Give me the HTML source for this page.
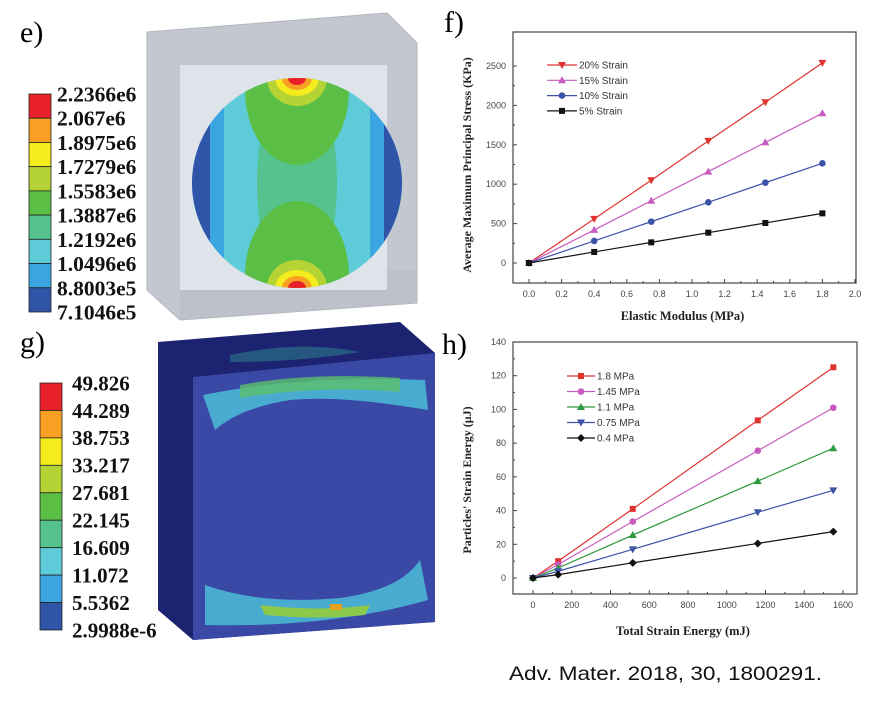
<!DOCTYPE html>
<html><head><meta charset="utf-8"><style>
html,body{margin:0;padding:0;background:#fff;}
svg{display:block;font-family:"Liberation Sans",sans-serif;}
.ser{font-family:"Liberation Serif",serif;font-weight:bold;}
</style></head><body>
<svg id="fig" width="883" height="708" viewBox="0 0 883 708" xmlns="http://www.w3.org/2000/svg">
<defs>
<clipPath id="circ"><circle cx="297" cy="183" r="105"/></clipPath>
</defs>
<!-- panel e -->
<text x="20" y="42" class="ser" style="font-weight:normal" font-size="30">e)</text>
<g>
<polygon points="147,32 387,13 417,43 417,303 180,320 147,290" fill="#c3c8d0" stroke="#b0b5bd"/>
<rect x="180" y="65" width="207" height="225" fill="#dfe3ea"/>
<g clip-path="url(#circ)">
<rect x="190" y="75" width="215" height="215" fill="#5ecbd9"/>
<rect x="190" y="75" width="22" height="215" fill="#2f55a8"/>
<rect x="383" y="75" width="22" height="215" fill="#2f55a8"/>
<rect x="210" y="75" width="14" height="215" fill="#3aa5e0"/>
<rect x="370" y="75" width="14" height="215" fill="#3aa5e0"/>
<ellipse cx="297" cy="183" rx="40" ry="110" fill="#56c28e"/>
<ellipse cx="297" cy="90" rx="52" ry="75" fill="#5bbf45"/>
<ellipse cx="297" cy="276" rx="52" ry="75" fill="#5bbf45"/>
<ellipse cx="297" cy="78" rx="30" ry="28" fill="#b5d334"/>
<ellipse cx="297" cy="288" rx="30" ry="28" fill="#b5d334"/>
<ellipse cx="297" cy="78" rx="22" ry="18" fill="#f5ec1e"/>
<ellipse cx="297" cy="288" rx="22" ry="18" fill="#f5ec1e"/>
<ellipse cx="297" cy="78" rx="15" ry="12" fill="#f7a023"/>
<ellipse cx="297" cy="288" rx="15" ry="12" fill="#f7a023"/>
<ellipse cx="297" cy="78" rx="9" ry="7" fill="#e8202a"/>
<ellipse cx="297" cy="288" rx="9" ry="7" fill="#e8202a"/>
</g>
<polygon points="180,290 387,290 387,270 417,270 417,303 180,320" fill="#b9bec6" opacity="0.6"/>
</g>
<g id="cbE"></g>
<!-- panel g -->
<text x="20" y="352" class="ser" style="font-weight:normal" font-size="30">g)</text>
<g>
<polygon points="158,342 400,322 435,353 435,622 193,640 158,610" fill="#1c2370"/>
<polygon points="193,377 435,353 435,622 193,640" fill="#3a48a6"/>
<path d="M203,395 Q300,375 425,380 L428,410 Q340,395 290,400 Q240,408 215,430 Z" fill="#4cb6d6" opacity="0.9"/>
<path d="M240,385 Q310,372 400,378 L400,392 Q320,385 240,398 Z" fill="#5bbf6a" opacity="0.8"/>
<path d="M205,585 Q260,605 340,598 Q400,590 420,560 L428,600 Q330,628 205,625 Z" fill="#4cb6d6" opacity="0.9"/>
<path d="M260,605 Q320,612 370,605 L365,615 Q320,620 265,615 Z" fill="#8cc84a"/>
<path d="M330,604 l12,0 l0,6 l-12,0 Z" fill="#e8a020"/>
<path d="M230,355 Q300,340 360,352 Q300,362 230,362 Z" fill="#2b7a8a" opacity="0.6"/>
</g>
<g id="cbG"></g>
<!-- panel f -->
<text x="444" y="32" class="ser" style="font-weight:normal" font-size="30">f)</text>
<g id="chartF"></g>
<!-- panel h -->
<text x="442" y="354" class="ser" style="font-weight:normal" font-size="30">h)</text>
<g id="chartH"></g>
<text x="509" y="680" font-size="19.5" fill="#111" textLength="313" lengthAdjust="spacingAndGlyphs">Adv. Mater. 2018, 30, 1800291.</text>
</svg>
<script>
const NS="http://www.w3.org/2000/svg";
const bandColors=["#e8202a","#f7a023","#f5ec1e","#b5d334","#5bbf45","#56c28e","#5ecbd9","#3aa5e0","#2f55a8"];
const labelsE=["2.2366e6","2.067e6","1.8975e6","1.7279e6","1.5583e6","1.3887e6","1.2192e6","1.0496e6","8.8003e5","7.1046e5"];
const labelsG=["49.826","44.289","38.753","33.217","27.681","22.145","16.609","11.072","5.5362","2.9988e-6"];
// chart f data
const fX=[0,0.4,0.75,1.1,1.45,1.8];
const fNames=["20% Strain","15% Strain","10% Strain","5% Strain"];
const f20=[0,560,1050,1550,2040,2540];
const f15=[0,420,790,1160,1530,1900];
const f10=[0,280,525,770,1020,1265];
const f5=[0,140,262,385,508,630];
const fYTicks=[0,500,1000,1500,2000,2500];
const fXTicks=["0.0","0.2","0.4","0.6","0.8","1.0","1.2","1.4","1.6","1.8","2.0"];
// chart h data
const hX=[0,130,515,1160,1550];
const hNames=["1.8 MPa","1.45 MPa","1.1 MPa","0.75 MPa","0.4 MPa"];
const h18=[0,10,41,93.5,125];
const h145=[0,8,33.5,75.5,101];
const h11=[0,6,25.5,57.5,77];
const h075=[0,4,17,39,52];
const h04=[0,2,9,20.5,27.5];
const hYTicks=[0,20,40,60,80,100,120,140];
const hXTicks=[0,200,400,600,800,1000,1200,1400,1600];

function mk(tag,attrs,parent,txt){const e=document.createElementNS(NS,tag);for(const k in attrs)e.setAttribute(k,attrs[k]);if(txt!==undefined)e.textContent=txt;parent.appendChild(e);return e;}

function colorbar(g,x,y0,y1,w,labels,lx,fs){
  const n=bandColors.length,h=(y1-y0)/n;
  bandColors.forEach((c,i)=>{
    const r=mk("rect",{x:x,y:y0+i*h,width:w,height:h,fill:c,stroke:"#222","stroke-width":0.8},g);
    
    
  });
  labels.forEach((t,i)=>{
    const tx=mk("text",{x:lx,y:y0+i*h+fs*0.35,"font-size":fs,class:"ser",fill:"#111"},g,t);
    
    
  });
}
colorbar(document.getElementById("cbE"),29,94,312,22,labelsE,57,21.5);
colorbar(document.getElementById("cbG"),40,383,630,22,labelsG,72,21);

function marker(g,type,x,y,c){
  let e;
  if(type==="sq")e=mk("rect",{x:x-3,y:y-3,width:6,height:6,fill:c},g);
  else if(type==="ci")e=mk("circle",{cx:x,cy:y,r:3.3,fill:c},g);
  else if(type==="up")e=mk("polygon",{points:`${x},${y-4} ${x+4},${y+3} ${x-4},${y+3}`,fill:c},g);
  else if(type==="dn")e=mk("polygon",{points:`${x-4},${y-3} ${x+4},${y-3} ${x},${y+4}`,fill:c},g);
  else e=mk("polygon",{points:`${x},${y-4} ${x+4},${y} ${x},${y+4} ${x-4},${y}`,fill:c},g);
  
  
}

function chart(g,o){
  const {L,R,T,B,xs,ys,xt,xtv,yt,series,legend,ytitle,xtitle,ytx,yty,xty}=o;
  const fr=mk("rect",{x:L,y:T,width:R-L,height:B-T,fill:"none",stroke:"#444","stroke-width":1.2},g);
  
  
  yt.forEach(v=>{
    const y=ys(v);
    mk("line",{x1:L,x2:L+4,y1:y,y2:y,stroke:"#444"},g);
    const t=mk("text",{x:L-7,y:y+3,"font-size":9,"text-anchor":"end",fill:"#444"},g,String(v));
    
    
  });
  for(let i=0;i<yt.length-1;i++){const y=ys((yt[i]+yt[i+1])/2);mk("line",{x1:L,x2:L+2,y1:y,y2:y,stroke:"#444"},g);}
  xt.forEach((lab,i)=>{
    const x=xs(xtv[i]);
    mk("line",{x1:x,x2:x,y1:B,y2:B-4,stroke:"#444"},g);
    if(i<xt.length-1){const xm=xs((xtv[i]+xtv[i+1])/2);mk("line",{x1:xm,x2:xm,y1:B,y2:B-2,stroke:"#444"},g);}
    const t=mk("text",{x:x,y:B+14,"font-size":9,"text-anchor":"middle",fill:"#444"},g,lab);
    
    
  });
  series.forEach(s=>{
    const pts=s.vals.map((v,i)=>xs(s.xv[i])+","+ys(v)).join(" ");
    const pl=mk("polyline",{points:pts,fill:"none",stroke:s.c,"stroke-width":1.2},g);
    
    
    s.vals.forEach((v,i)=>marker(g,s.m,xs(s.xv[i]),ys(v),s.c));
  });
  series.forEach((s,i)=>{
    const y=legend.y0+i*legend.dy;
    mk("line",{x1:legend.x0,x2:legend.x1,y1:y,y2:y,stroke:s.c,"stroke-width":1.2},g);
    marker(g,s.m,(legend.x0+legend.x1)/2,y,s.c);
    const t=mk("text",{x:legend.x1+2,y:y+3.5,"font-size":10,fill:"#333"},g,s.name);
    
    
  });
  const yT=mk("text",{x:ytx,y:yty,"font-size":12,class:"ser","text-anchor":"middle",fill:"#222",transform:`rotate(-90 ${ytx} ${yty})`},g,ytitle);
  
  
  const xT=mk("text",{x:(L+R)/2-2,y:xty,"font-size":12.5,class:"ser","text-anchor":"middle",fill:"#222"},g,xtitle);
  
  
}

const fxs=v=>529+v*163, fys=v=>263-v*197/2500;
chart(document.getElementById("chartF"),{L:513,R:856,T:32,B:283,xs:fxs,ys:fys,
  xt:fXTicks,xtv:fXTicks.map(Number),yt:fYTicks,
  series:[{name:fNames[0],vals:f20,xv:fX,c:"#e0332f",m:"dn"},{name:fNames[1],vals:f15,xv:fX,c:"#c75bc0",m:"up"},{name:fNames[2],vals:f10,xv:fX,c:"#3d53a8",m:"ci"},{name:fNames[3],vals:f5,xv:fX,c:"#111",m:"sq"}],
  legend:{x0:547,x1:577,y0:65,dy:15.3},ytitle:"Average Maximum Principal Stress (KPa)",xtitle:"Elastic Modulus (MPa)",ytx:471,yty:165,xty:320});

const hxs=v=>533+v*310/1600, hys=v=>578-v*236/140;
chart(document.getElementById("chartH"),{L:513,R:857,T:342,B:594,xs:hxs,ys:hys,
  xt:hXTicks.map(String),xtv:hXTicks,yt:hYTicks,
  series:[{name:hNames[0],vals:h18,xv:hX,c:"#e0332f",m:"sq"},{name:hNames[1],vals:h145,xv:hX,c:"#c75bc0",m:"ci"},{name:hNames[2],vals:h11,xv:hX,c:"#2f9a3e",m:"up"},{name:hNames[3],vals:h075,xv:hX,c:"#3d53a8",m:"dn"},{name:hNames[4],vals:h04,xv:hX,c:"#111",m:"di"}],
  legend:{x0:567,x1:595,y0:376,dy:15.5},ytitle:"Particles' Strain Energy (\u00b5J)",xtitle:"Total Strain Energy (mJ)",ytx:471,yty:480,xty:635});
</script>
</body></html>
